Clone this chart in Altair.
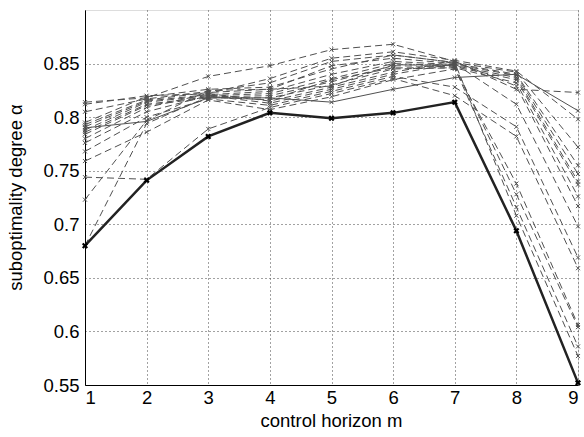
import altair as alt
import pandas as pd

# control horizon values on the x axis
horizon = [1, 2, 3, 4, 5, 6, 7, 8, 9]

# highlighted run (thick solid line)
alpha_main = [0.680, 0.741, 0.782, 0.804, 0.799, 0.804, 0.814, 0.694, 0.552]

# thin solid run
alpha_thin = [0.790, 0.796, 0.818, 0.818, 0.814, 0.826, 0.837, 0.840, 0.806]

# remaining runs (dashed lines)
run_01 = [0.814, 0.818, 0.838, 0.848, 0.863, 0.868, 0.852, 0.826, 0.823]
run_02 = [0.812, 0.820, 0.822, 0.836, 0.855, 0.861, 0.853, 0.843, 0.798]
run_03 = [0.805, 0.817, 0.824, 0.832, 0.852, 0.858, 0.851, 0.842, 0.772]
run_04 = [0.793, 0.816, 0.823, 0.826, 0.848, 0.855, 0.850, 0.840, 0.755]
run_05 = [0.791, 0.815, 0.821, 0.824, 0.840, 0.852, 0.849, 0.839, 0.747]
run_06 = [0.788, 0.814, 0.820, 0.822, 0.836, 0.850, 0.848, 0.837, 0.740]
run_07 = [0.786, 0.812, 0.819, 0.820, 0.833, 0.848, 0.847, 0.835, 0.737]
run_08 = [0.784, 0.811, 0.818, 0.818, 0.830, 0.845, 0.846, 0.832, 0.726]
run_09 = [0.780, 0.809, 0.822, 0.815, 0.828, 0.842, 0.852, 0.829, 0.717]
run_10 = [0.776, 0.805, 0.820, 0.813, 0.826, 0.840, 0.850, 0.812, 0.698]
run_11 = [0.768, 0.800, 0.817, 0.811, 0.824, 0.838, 0.828, 0.791, 0.669]
run_12 = [0.744, 0.742, 0.789, 0.809, 0.822, 0.836, 0.820, 0.782, 0.659]
run_13 = [0.759, 0.786, 0.816, 0.807, 0.819, 0.835, 0.845, 0.738, 0.606]
run_14 = [0.723, 0.797, 0.825, 0.826, 0.829, 0.849, 0.848, 0.728, 0.604]
run_15 = [0.680, 0.794, 0.819, 0.816, 0.835, 0.846, 0.846, 0.716, 0.586]
run_16 = [0.795, 0.819, 0.826, 0.828, 0.845, 0.858, 0.851, 0.708, 0.577]

dashed_runs = [run_01, run_02, run_03, run_04, run_05, run_06, run_07, run_08,
               run_09, run_10, run_11, run_12, run_13, run_14, run_15, run_16]

y_ticks = [0.55, 0.60, 0.65, 0.70, 0.75, 0.80, 0.85]

rows = []
for i, run in enumerate(dashed_runs):
    for m, a in zip(horizon, run):
        rows.append({"m": m, "alpha": a, "run": f"d{i:02d}", "kind": "dashed"})
for m, a in zip(horizon, alpha_thin):
    rows.append({"m": m, "alpha": a, "run": "thin", "kind": "thin"})
for m, a in zip(horizon, alpha_main):
    rows.append({"m": m, "alpha": a, "run": "main", "kind": "main"})
df = pd.DataFrame(rows)

FONT = "Liberation Sans"
FS = 18.5
X_MARK = "M-1,-1L1,1M-1,1L1,-1"

x_enc = alt.X(
    "m:Q",
    scale=alt.Scale(domain=[1, 9], nice=False, zero=False),
    axis=alt.Axis(
        values=horizon, format="d", title="control horizon m",
        grid=True, gridDash=[1, 3], gridColor="#444", gridWidth=1,
        ticks=False, domainColor="#000", domainWidth=1,
        labelFontSize=FS, labelColor="#000", labelPadding=3, labelFont=FONT,
        titleFontSize=FS, titleFontWeight="normal", titleColor="#000", titleFont=FONT,
        titleX=246, titleY=35, titleBaseline="middle", titleAlign="center",
    ),
)
y_enc = alt.Y(
    "alpha:Q",
    scale=alt.Scale(domain=[0.55, 0.9], nice=False, zero=False),
    axis=alt.Axis(
        values=y_ticks, format=".2~f", title="suboptimality degree α",
        grid=True, gridDash=[1, 3], gridColor="#444", gridWidth=1,
        ticks=False, domainColor="#000", domainWidth=1,
        labelFontSize=FS, labelColor="#000", labelPadding=6, labelFont=FONT,
        titleFontSize=FS, titleFontWeight="normal", titleColor="#000", titleFont=FONT,
        titleX=-70, titleY=187, titleAngle=270, titleBaseline="middle", titleAlign="center",
    ),
)

base = alt.Chart(df).encode(x=x_enc, y=y_enc, detail="run:N")

dashed_lines = base.transform_filter(alt.datum.kind == "dashed").mark_line(
    color="#505050", strokeWidth=1, strokeDash=[7, 4]
)
dashed_pts = base.transform_filter(alt.datum.kind == "dashed").mark_point(
    shape=X_MARK, size=16, filled=False, color="#505050", strokeWidth=1, opacity=1
)
thin_line = base.transform_filter(alt.datum.kind == "thin").mark_line(
    color="#505050", strokeWidth=1
)
thin_pts = base.transform_filter(alt.datum.kind == "thin").mark_point(
    shape=X_MARK, size=16, filled=False, color="#505050", strokeWidth=1, opacity=1
)
main_line = base.transform_filter(alt.datum.kind == "main").mark_line(
    color="#222222", strokeWidth=2.5
)
main_pts = base.transform_filter(alt.datum.kind == "main").mark_point(
    shape=X_MARK, size=20, filled=False, color="#000000", strokeWidth=2.2, opacity=1
)

chart = (
    alt.layer(dashed_lines, dashed_pts, thin_line, thin_pts, main_line, main_pts)
    .properties(
        width=493, height=375,
        autosize=alt.AutoSizeParams(type="none"),
        padding={"left": 85, "top": 10, "right": 6, "bottom": 52},
        background="white",
    )
    .configure_view(stroke=None)
    .configure(font=FONT)
)

chart.save("out.html", embed_options={"renderer": "svg", "actions": False})
